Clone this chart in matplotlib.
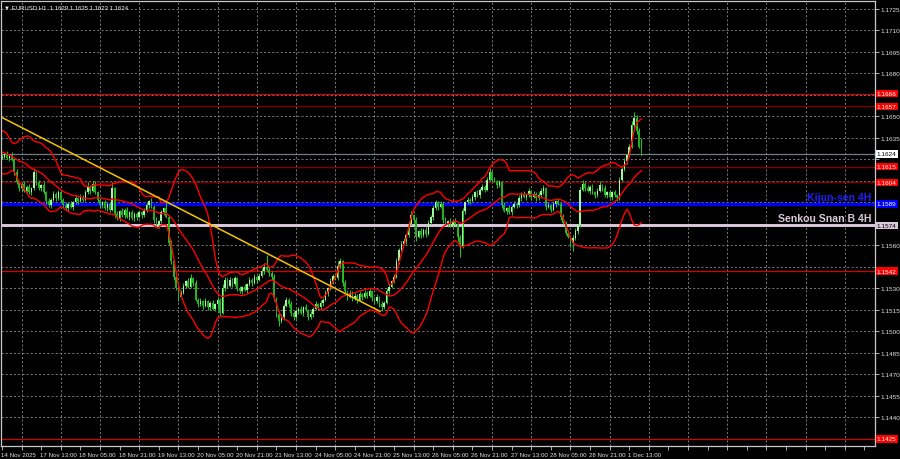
import numpy as np
import pandas as pd
import matplotlib
matplotlib.use("Agg")
import matplotlib.pyplot as plt
from matplotlib import transforms, font_manager

# ---------------- data ----------------
TITLE = "\u25BC EURUSD,H1  1.1629 1.1635 1.1623 1.1624"

TIME_LABELS = ["14 Nov 2025", "17 Nov 13:00", "18 Nov 05:00", "18 Nov 21:00",
               "19 Nov 13:00", "20 Nov 05:00", "20 Nov 21:00", "21 Nov 13:00",
               "24 Nov 05:00", "24 Nov 21:00", "25 Nov 13:00", "26 Nov 05:00",
               "26 Nov 21:00", "27 Nov 13:00", "28 Nov 05:00", "28 Nov 21:00",
               "1 Dec 13:00"]
LABEL_STEP = 16  # hours between time labels

# closes of the hours before the first visible bar (feed the Bollinger bands)
PRE_CLOSES = [1.1630, 1.1636, 1.1640, 1.1638, 1.1632, 1.1628, 1.1622, 1.1615,
              1.1612, 1.1618, 1.1625, 1.1630, 1.1627, 1.1620, 1.1616, 1.1619,
              1.1623, 1.1626, 1.1621]

CLOSES = [
    1.1622, 1.1624, 1.1621, 1.1623, 1.1620, 1.1611, 1.1604, 1.1600, 1.1603, 1.1598,
    1.1601, 1.1597, 1.1600, 1.1611, 1.1604, 1.1600, 1.1602, 1.1597, 1.1591, 1.1588,
    1.1592, 1.1596, 1.1593, 1.1597, 1.1592, 1.1588, 1.1586, 1.1589, 1.1587, 1.1590,
    1.1593, 1.1591, 1.1594, 1.1592, 1.1597, 1.1601, 1.1598, 1.1603, 1.1597, 1.1592,
    1.1588, 1.1590, 1.1586, 1.1589, 1.1585, 1.1600, 1.1582, 1.1579, 1.1584, 1.1581,
    1.1585, 1.1580, 1.1583, 1.1579, 1.1582, 1.1580, 1.1583, 1.1581, 1.1584, 1.1588,
    1.1591, 1.1587, 1.1578, 1.1574, 1.1577, 1.1583, 1.1586, 1.1580, 1.1562, 1.1549,
    1.1538, 1.1530, 1.1524, 1.1527, 1.1532, 1.1535, 1.1531, 1.1537, 1.1534, 1.1522,
    1.1519, 1.1521, 1.1518, 1.1521, 1.1517, 1.1520, 1.1516, 1.1519, 1.1522, 1.1513,
    1.1530, 1.1536, 1.1532, 1.1536, 1.1533, 1.1537, 1.1530, 1.1528, 1.1531, 1.1529,
    1.1533, 1.1536, 1.1534, 1.1538, 1.1536, 1.1539, 1.1542, 1.1545, 1.1543, 1.1541,
    1.1538, 1.1523, 1.1512, 1.1507, 1.1510, 1.1518, 1.1522, 1.1519, 1.1513, 1.1510,
    1.1514, 1.1516, 1.1513, 1.1517, 1.1515, 1.1510, 1.1512, 1.1516, 1.1519, 1.1517,
    1.1520, 1.1522, 1.1527, 1.1530, 1.1535, 1.1539, 1.1537, 1.1546, 1.1549, 1.1534,
    1.1528, 1.1524, 1.1527, 1.1523, 1.1525, 1.1522, 1.1526, 1.1524, 1.1527, 1.1525,
    1.1528, 1.1523, 1.1521, 1.1524, 1.1519, 1.1517, 1.1520, 1.1528, 1.1531, 1.1535,
    1.1538, 1.1549, 1.1557, 1.1561, 1.1563, 1.1567, 1.1575, 1.1581, 1.1578, 1.1566,
    1.1570, 1.1567, 1.1571, 1.1568, 1.1576, 1.1580, 1.1586, 1.1590, 1.1587, 1.1589,
    1.1578, 1.1575, 1.1577, 1.1574, 1.1577, 1.1575, 1.1566, 1.1559, 1.1584, 1.1590,
    1.1592, 1.1591, 1.1594, 1.1597, 1.1595, 1.1599, 1.1601, 1.1599, 1.1606, 1.1611,
    1.1606, 1.1605, 1.1602, 1.1604, 1.1588, 1.1584, 1.1586, 1.1583, 1.1587, 1.1589,
    1.1588, 1.1593, 1.1596, 1.1594, 1.1595, 1.1598, 1.1594, 1.1596, 1.1593, 1.1595,
    1.1598, 1.1600, 1.1587, 1.1588, 1.1585, 1.1589, 1.1591, 1.1589, 1.1580, 1.1576,
    1.1569, 1.1566, 1.1562, 1.1565, 1.1570, 1.1574, 1.1599, 1.1603, 1.1600, 1.1598,
    1.1601, 1.1597, 1.1595, 1.1598, 1.1602, 1.1600, 1.1595, 1.1597, 1.1594, 1.1597,
    1.1595, 1.1593, 1.1606, 1.1613, 1.1619, 1.1623, 1.1629, 1.1644, 1.1649, 1.1640,
    1.1629, 1.1624,
]

UPPER_WICK_PIPS = [
    2, 1, 2, 1, 2, 1, 2, 1, 1, 2, 1, 2, 1, 3, 1, 2, 1, 2, 1, 2,
    1, 2, 1, 2, 1, 1, 2, 1, 2, 1, 2, 1, 2, 1, 2, 3, 1, 2, 2, 1,
    2, 1, 2, 1, 1, 4, 1, 2, 1, 2, 1, 2, 1, 2, 1, 1, 2, 1, 2, 2,
    1, 2, 1, 2, 1, 2, 1, 5, 1, 2, 1, 2, 1, 2, 2, 1, 2, 3, 1, 2,
    1, 2, 1, 2, 1, 1, 2, 1, 2, 1, 3, 2, 1, 2, 1, 2, 1, 2, 1, 2,
    1, 2, 1, 2, 1, 2, 2, 3, 8, 2, 1, 2, 1, 2, 2, 1, 2, 1, 2, 1,
    2, 1, 2, 1, 2, 1, 2, 1, 2, 1, 2, 1, 2, 1, 2, 1, 2, 3, 2, 1,
    2, 1, 2, 1, 2, 1, 2, 1, 2, 1, 2, 1, 1, 2, 1, 2, 1, 2, 2, 1,
    2, 2, 1, 2, 2, 1, 2, 3, 1, 2, 1, 2, 1, 2, 2, 1, 2, 2, 1, 2,
    1, 2, 1, 2, 1, 2, 1, 1, 2, 1, 2, 1, 2, 1, 2, 1, 2, 1, 2, 3,
    1, 2, 1, 2, 1, 2, 1, 2, 1, 2, 1, 2, 1, 2, 1, 2, 1, 2, 1, 2,
    2, 2, 1, 2, 1, 2, 1, 2, 1, 2, 1, 2, 1, 2, 2, 1, 2, 3, 1, 2,
    1, 2, 1, 2, 3, 1, 2, 1, 2, 1, 2, 1, 2, 2, 2, 1, 2, 3, 4, 2,
    2, 6,
]

LOWER_WICK_PIPS = [
    1, 2, 1, 2, 1, 2, 1, 2, 2, 1, 2, 1, 2, 1, 2, 1, 2, 1, 2, 1,
    2, 1, 2, 1, 2, 2, 1, 2, 1, 2, 1, 2, 1, 2, 1, 1, 2, 1, 1, 2,
    1, 2, 1, 2, 2, 1, 3, 1, 2, 1, 2, 1, 2, 1, 2, 2, 1, 2, 1, 1,
    2, 1, 2, 1, 2, 1, 2, 1, 2, 2, 2, 1, 3, 1, 1, 2, 1, 1, 2, 1,
    2, 1, 2, 1, 2, 2, 1, 2, 3, 2, 1, 2, 2, 1, 2, 1, 2, 1, 2, 1,
    2, 1, 2, 1, 2, 1, 1, 2, 1, 2, 2, 2, 2, 3, 1, 2, 1, 2, 2, 2,
    1, 2, 1, 2, 1, 2, 1, 2, 1, 2, 1, 2, 1, 2, 1, 2, 1, 1, 2, 2,
    1, 2, 1, 2, 1, 2, 1, 2, 1, 2, 1, 2, 2, 1, 2, 3, 1, 1, 2, 1,
    1, 1, 2, 1, 1, 2, 1, 1, 2, 3, 1, 2, 1, 2, 1, 1, 2, 1, 2, 1,
    2, 1, 2, 1, 2, 1, 3, 7, 1, 2, 1, 2, 1, 2, 1, 2, 1, 2, 1, 1,
    2, 1, 2, 1, 2, 1, 2, 1, 2, 1, 2, 1, 2, 1, 2, 1, 2, 1, 2, 1,
    1, 2, 2, 1, 2, 1, 2, 1, 2, 1, 2, 1, 3, 6, 1, 2, 1, 1, 2, 1,
    2, 1, 2, 1, 1, 2, 1, 2, 1, 2, 1, 2, 1, 1, 1, 2, 1, 1, 1, 2,
    1, 1,
]

BB_PERIOD = 20
BB_DEV = 2.0

BRIGHT_RED_LEVELS = [1.1666, 1.1542, 1.1425]
DARK_RED_LEVELS = [1.1657, 1.1615, 1.1604]
LAST_PRICE = 1.1624
KIJUN_4H = 1.1589
SENKOU_B_4H = 1.1574

TREND_BARS = [-0.8, 154.3]
TREND_PRICES = [1.1650, 1.1514]

Y_TICK_START, Y_TICK_STOP, Y_TICK_STEP = 1.1425, 1.1725, 0.0015

# ---------------- fonts ----------------
avail = {f.name for f in font_manager.fontManager.ttflist}
small_font = ["Liberation Sans", "DejaVu Sans"]
narrow = [n for n in ["Liberation Sans Narrow", "DejaVu Sans Condensed"] if n in avail]
label_font = (narrow + ["Liberation Sans", "DejaVu Sans"])
label_size = 9.0 if narrow else 7.6

# ---------------- figure ----------------
fig = plt.figure(figsize=(9, 4.6), dpi=100, facecolor="black")
ax = fig.add_axes([1 / 900, 13 / 460, 874 / 900, 445 / 460], facecolor="black")

n = len(CLOSES)
x = np.arange(n)
closes = np.array(CLOSES)
opens = np.concatenate([[PRE_CLOSES[-1]], closes[:-1]])
uw = np.array(UPPER_WICK_PIPS[:n]) * 1e-4
lw_ = np.array(LOWER_WICK_PIPS[:n]) * 1e-4
highs = np.maximum(opens, closes) + uw
lows = np.minimum(opens, closes) - lw_
bull = closes >= opens

# horizontal levels
for lv in BRIGHT_RED_LEVELS:
    ax.axhline(lv, color="#d40000", lw=0.9, zorder=1)
for lv in DARK_RED_LEVELS:
    ax.axhline(lv, color="#7c0000", lw=1.0, zorder=1)
ax.axhline(LAST_PRICE, color="#6f7c86", lw=0.9, zorder=1)
ax.axhline(KIJUN_4H, color="#0000ff", lw=2.3, zorder=1.2)
ax.axhline(SENKOU_B_4H, color="#dcc8dc", lw=2.1, zorder=1.2)

# candles
ax.vlines(x, lows, highs, color="#22c422", lw=0.75, zorder=2)
body_h = np.maximum(np.abs(closes - opens), 0.00003)
ax.bar(x[bull], body_h[bull], bottom=np.minimum(opens, closes)[bull], width=0.62,
       color="#a0f7a0", linewidth=0, zorder=2.1)
ax.bar(x[~bull], body_h[~bull], bottom=np.minimum(opens, closes)[~bull], width=0.62,
       color="#22b022", linewidth=0, zorder=2.1)

# Bollinger bands
s = pd.Series(PRE_CLOSES + CLOSES)
mid = s.rolling(BB_PERIOD).mean()
sd = s.rolling(BB_PERIOD).std(ddof=0)
off = len(PRE_CLOSES)
for band in (mid, mid + BB_DEV * sd, mid - BB_DEV * sd):
    ax.plot(x, band.values[off:], color="#ff0000", lw=1.0, zorder=2.3)

# trend line
ax.plot(TREND_BARS, TREND_PRICES, color="#f5c400", lw=1.1, zorder=2.4)

# axes limits
ax.set_xlim(-0.408, 356.32)
ax.set_ylim(1.142005, 1.173058)

# right-hand price boxes (values)
box_levels = BRIGHT_RED_LEVELS + DARK_RED_LEVELS + [LAST_PRICE, KIJUN_4H, SENKOU_B_4H]

# y axis: ticks whose labels would sit under a price box keep their tick mark only
yt = np.round(np.arange(Y_TICK_START, Y_TICK_STOP + 1e-9, Y_TICK_STEP), 4)
ax.yaxis.tick_right()
ax.set_yticks(yt)
ylabels = [("" if min(abs(v - b) for b in box_levels) < 0.00045 else f"{v:.4f}") for v in yt]
ax.set_yticklabels(ylabels, fontsize=4.6, color="#e0e0e0", family=small_font)
ax.tick_params(axis="y", which="major", length=3, width=0.6, color="#c8c8c8", pad=0.8)

# x axis
major = np.arange(0, 357, LABEL_STEP)
ax.set_xticks(major)
labels = [TIME_LABELS[i] if i < len(TIME_LABELS) else "" for i in range(len(major))]
ax.set_xticklabels(labels, fontsize=4.4, color="#e0e0e0", family=small_font, ha="left")
ax.set_xticks(np.arange(LABEL_STEP // 2, 357, LABEL_STEP), minor=True)
ax.tick_params(axis="x", which="both", length=3, width=0.6, color="#c8c8c8", pad=1.5,
               direction="out")
for t in ax.get_xticklabels():
    t.set_transform(t.get_transform() + transforms.ScaledTranslation(-1 / 100, 0, fig.dpi_scale_trans))

# grid
ax.grid(which="major", axis="y", color="#8a8a8a", lw=0.6, ls=(0, (2.5, 2.5)), zorder=0)
ax.grid(which="minor", axis="x", color="#8a8a8a", lw=0.6, ls=(0, (2.5, 2.5)), zorder=0)
ax.set_axisbelow(True)

for sp in ax.spines.values():
    sp.set_color("#c8c8c8")
    sp.set_linewidth(0.9)

bt = transforms.blended_transform_factory(ax.transAxes, ax.transData)
boxes = [(lv, "#ff0000", "#ffffff") for lv in BRIGHT_RED_LEVELS + DARK_RED_LEVELS]
boxes += [(LAST_PRICE, "#ffffff", "#000000"), (KIJUN_4H, "#0000ff", "#ffffff"),
          (SENKOU_B_4H, "#dcc8dc", "#000000")]
for lv, fc, tc in boxes:
    ax.text(1.0022, lv, f"{lv:.4f}", transform=bt, ha="left", va="center",
            fontsize=4.6, color=tc, family=small_font, clip_on=False, zorder=6,
            bbox=dict(boxstyle="square,pad=0.2", fc=fc, ec="none"))

# indicator captions
ax.annotate("Kijun-sen 4H", xy=(1.0, KIJUN_4H), xycoords=bt, xytext=(-2.5, 1.6),
            textcoords="offset points", ha="right", va="bottom", fontsize=label_size,
            fontweight="bold", color="#1e1eff", family=label_font, zorder=7)
ax.annotate("Senkou Snan B 4H", xy=(1.0, SENKOU_B_4H), xycoords=bt, xytext=(-2.5, 1.8),
            textcoords="offset points", ha="right", va="bottom", fontsize=label_size,
            fontweight="bold", color="#d8c8d8", family=label_font, zorder=7)

# title
ax.text(0.004, 0.993, TITLE, transform=ax.transAxes, ha="left", va="top",
        fontsize=4.3, color="#f0f0f0", family=small_font, zorder=7)

fig.savefig("out.png", dpi=100, facecolor="black")
